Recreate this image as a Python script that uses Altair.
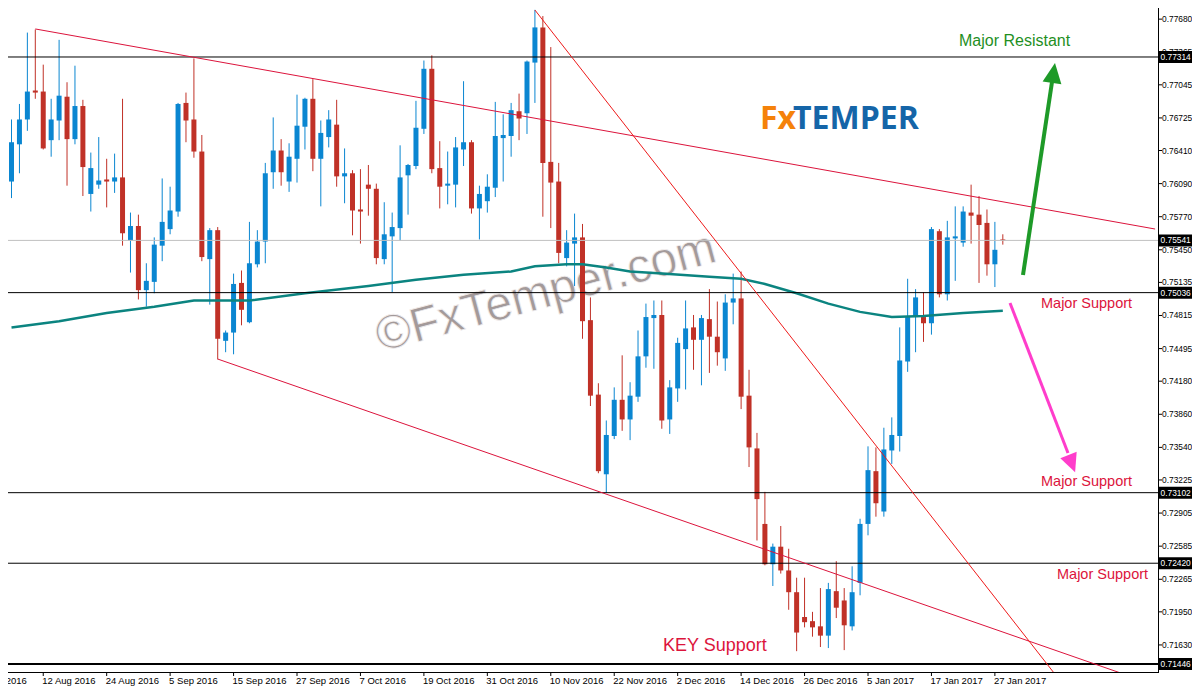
import altair as alt
import pandas as pd

# ---------------- data (AUD/USD daily) ----------------
opens = [0.7611, 0.7647, 0.7671, 0.7699, 0.7698, 0.7651, 0.7670, 0.7693, 0.7652, 0.7684,
         0.7599, 0.7608, 0.7613, 0.7611, 0.7615, 0.7554, 0.7568, 0.7506, 0.7514, 0.7549,
         0.7565, 0.7582, 0.7687, 0.7671, 0.7640, 0.7536, 0.7564, 0.7457, 0.7465, 0.7513,
         0.7475, 0.7531, 0.7553, 0.7620, 0.7641, 0.7611, 0.7633, 0.7664, 0.7691, 0.7633,
         0.7654, 0.7666, 0.7616, 0.7619, 0.7584, 0.7608, 0.7604, 0.7536, 0.7558, 0.7566,
         0.7617, 0.7626, 0.7662, 0.7720, 0.7624, 0.7607, 0.7608, 0.7642, 0.7649, 0.7585,
         0.7592, 0.7605, 0.7653, 0.7655, 0.7679, 0.7677, 0.7726, 0.7760, 0.7630, 0.7611,
         0.7537, 0.7551, 0.7557, 0.7477, 0.7405, 0.7328, 0.7365, 0.7400, 0.7381, 0.7403,
         0.7442, 0.7479, 0.7482, 0.7381, 0.7411, 0.7449, 0.7470, 0.7458, 0.7478, 0.7461,
         0.7440, 0.7494, 0.7498, 0.7404, 0.7353, 0.7280, 0.7241, 0.7258, 0.7235, 0.7214,
         0.7190, 0.7186, 0.7181, 0.7172, 0.7215, 0.7206, 0.7181, 0.7223, 0.7280, 0.7331,
         0.7292, 0.7351, 0.7365, 0.7437, 0.7480, 0.7480, 0.7474, 0.7563, 0.7502, 0.7556,
         0.7552, 0.7581, 0.7579, 0.7571, 0.7531, 0.7555]
highs = [0.7671, 0.7686, 0.7755, 0.7758, 0.7724, 0.7691, 0.7748, 0.7707, 0.7723, 0.7690,
         0.7639, 0.7654, 0.7633, 0.7638, 0.7691, 0.7581, 0.7579, 0.7532, 0.7557, 0.7614,
         0.7606, 0.7687, 0.7697, 0.7730, 0.7656, 0.7566, 0.7567, 0.7467, 0.7522, 0.7525,
         0.7572, 0.7564, 0.7629, 0.7673, 0.7652, 0.7648, 0.7695, 0.7692, 0.7710, 0.7670,
         0.7680, 0.7690, 0.7643, 0.7622, 0.7623, 0.7627, 0.7609, 0.7591, 0.7581, 0.7646,
         0.7628, 0.7689, 0.7728, 0.7733, 0.7650, 0.7640, 0.7654, 0.7708, 0.7651, 0.7607,
         0.7618, 0.7688, 0.7676, 0.7687, 0.7696, 0.7728, 0.7777, 0.7771, 0.7741, 0.7629,
         0.7564, 0.7580, 0.7570, 0.7499, 0.7416, 0.7380, 0.7412, 0.7443, 0.7417, 0.7467,
         0.7493, 0.7496, 0.7496, 0.7419, 0.7460, 0.7496, 0.7482, 0.7482, 0.7507, 0.7495,
         0.7502, 0.7522, 0.7524, 0.7429, 0.7368, 0.7311, 0.7261, 0.7278, 0.7256, 0.7228,
         0.7228, 0.7195, 0.7218, 0.7223, 0.7244, 0.7218, 0.7239, 0.7285, 0.7355, 0.7354,
         0.7373, 0.7383, 0.7470, 0.7517, 0.7507, 0.7504, 0.7567, 0.7565, 0.7573, 0.7587,
         0.7587, 0.7608, 0.7597, 0.7584, 0.7572, 0.7560]
lows = [0.7595, 0.7619, 0.7660, 0.7691, 0.7642, 0.7635, 0.7651, 0.7607, 0.7647, 0.7597,
        0.7582, 0.7604, 0.7586, 0.7600, 0.7549, 0.7523, 0.7497, 0.7490, 0.7503, 0.7534,
        0.7560, 0.7577, 0.7649, 0.7634, 0.7534, 0.7492, 0.7439, 0.7446, 0.7444, 0.7472,
        0.7474, 0.7528, 0.7532, 0.7604, 0.7607, 0.7601, 0.7610, 0.7642, 0.7621, 0.7587,
        0.7644, 0.7606, 0.7590, 0.7559, 0.7551, 0.7578, 0.7531, 0.7531, 0.7504, 0.7554,
        0.7579, 0.7623, 0.7657, 0.7619, 0.7585, 0.7589, 0.7586, 0.7626, 0.7580, 0.7555,
        0.7581, 0.7596, 0.7611, 0.7635, 0.7651, 0.7657, 0.7687, 0.7577, 0.7566, 0.7532,
        0.7529, 0.7510, 0.7459, 0.7394, 0.7329, 0.7310, 0.7362, 0.7370, 0.7361, 0.7398,
        0.7431, 0.7430, 0.7372, 0.7367, 0.7398, 0.7410, 0.7429, 0.7414, 0.7426, 0.7433,
        0.7428, 0.7473, 0.7391, 0.7335, 0.7264, 0.7240, 0.7220, 0.7232, 0.7197, 0.7157,
        0.7180, 0.7171, 0.7161, 0.7160, 0.7189, 0.7158, 0.7177, 0.7211, 0.7269, 0.7287,
        0.7287, 0.7338, 0.7350, 0.7427, 0.7446, 0.7456, 0.7463, 0.7499, 0.7496, 0.7515,
        0.7548, 0.7551, 0.7513, 0.7520, 0.7509, 0.7550]
closes = [0.7649, 0.7671, 0.7698, 0.7697, 0.7643, 0.7671, 0.7694, 0.7652, 0.7684, 0.7625,
          0.7624, 0.7612, 0.7611, 0.7615, 0.7561, 0.7568, 0.7506, 0.7515, 0.7550, 0.7572,
          0.7583, 0.7686, 0.7670, 0.7640, 0.7538, 0.7564, 0.7459, 0.7465, 0.7512, 0.7487,
          0.7532, 0.7553, 0.7619, 0.7641, 0.7620, 0.7635, 0.7665, 0.7691, 0.7633, 0.7658,
          0.7671, 0.7616, 0.7619, 0.7583, 0.7582, 0.7604, 0.7537, 0.7560, 0.7567, 0.7615,
          0.7627, 0.7663, 0.7720, 0.7623, 0.7606, 0.7609, 0.7644, 0.7649, 0.7585, 0.7599,
          0.7606, 0.7655, 0.7656, 0.7680, 0.7672, 0.7727, 0.7760, 0.7629, 0.7610, 0.7542,
          0.7552, 0.7557, 0.7476, 0.7404, 0.7331, 0.7366, 0.7400, 0.7381, 0.7404, 0.7442,
          0.7480, 0.7482, 0.7380, 0.7412, 0.7455, 0.7469, 0.7458, 0.7479, 0.7461, 0.7446,
          0.7494, 0.7498, 0.7403, 0.7354, 0.7304, 0.7241, 0.7258, 0.7235, 0.7214, 0.7175,
          0.7185, 0.7180, 0.7172, 0.7217, 0.7199, 0.7182, 0.7214, 0.7280, 0.7332, 0.7300,
          0.7352, 0.7366, 0.7438, 0.7480, 0.7499, 0.7474, 0.7565, 0.7502, 0.7557, 0.7558,
          0.7582, 0.7578, 0.7569, 0.7531, 0.7545, 0.7554]

# moving average (teal) sampled at bar indices
ma_bars = [0, 6, 12, 18, 23, 30, 37, 45, 51, 57, 63, 66, 70, 72, 75, 78, 82, 88, 92, 95,
           99, 103, 107, 111, 115, 120, 125]
ma_values = [0.7470, 0.7476, 0.7484, 0.7490, 0.7496, 0.7496, 0.7503, 0.7510, 0.7516, 0.7521,
             0.7524, 0.7529, 0.7531, 0.7531, 0.7528, 0.7524, 0.7522, 0.7519, 0.7517, 0.7512,
             0.7503, 0.7493, 0.7485, 0.7480, 0.7481, 0.7484, 0.7486]

# x-axis date labels and the bars they sit on (first one is cut by the left edge)
date_labels = ["2 Aug 2016", "12 Aug 2016", "24 Aug 2016", "5 Sep 2016", "15 Sep 2016",
               "27 Sep 2016", "7 Oct 2016", "19 Oct 2016", "31 Oct 2016", "10 Nov 2016",
               "22 Nov 2016", "2 Dec 2016", "14 Dec 2016", "26 Dec 2016", "5 Jan 2017",
               "17 Jan 2017", "27 Jan 2017"]
date_bars = [-4, 4, 12, 20, 28, 36, 44, 52, 60, 68, 76, 84, 92, 100, 108, 116, 124]

# right axis price ticks
price_ticks = [0.77680, 0.77365, 0.77045, 0.76725, 0.76410, 0.76090, 0.75770, 0.75450,
               0.75135, 0.74815, 0.74495, 0.74180, 0.73860, 0.73540, 0.73225, 0.72905,
               0.72585, 0.72265, 0.71950, 0.71630, 0.71310]

# horizontal levels
levels = [0.77314, 0.75036, 0.73102, 0.72420]
key_level = [0.71446]
bid_level = [0.75541]
boxed_levels = [0.77314, 0.75541, 0.75036, 0.73102, 0.72420, 0.71446]

# trend lines (bar index, price)
upper_bars = [3, 144.2]
upper_prices = [0.77585, 0.75651]
lower_bars = [26, 144.2]
lower_prices = [0.74394, 0.71243]
steep_bars = [66, 133]
steep_prices = [0.77768, 0.71208]

# ---------------- chart ----------------
FONT = "Liberation Sans"
BLUE = "#0a86d1"
RED = "#c03127"
CRIMSON = "#dc143c"

W, H = 1150, 664
Y_MIN, Y_MAX = 0.713685, 0.777877
xs = alt.Scale(domain=[0.1875, 143.9375], nice=False, zero=False)
ys = alt.Scale(domain=[Y_MIN, Y_MAX], nice=False, zero=False)


def X(f):
    return alt.X(f, scale=xs, axis=None)


def Y(f):
    return alt.Y(f, scale=ys, axis=None)


bars = pd.DataFrame({"bar": list(range(len(opens))), "open": opens, "high": highs,
                     "low": lows, "close": closes})
bars["dir"] = ["up" if c >= o else "down" for o, c in zip(opens, closes)]
color = alt.Color("dir:N", scale=alt.Scale(domain=["up", "down"], range=[BLUE, RED]),
                  legend=None)

wicks = alt.Chart(bars).mark_rule(strokeWidth=1, clip=True).encode(
    x=X("bar:Q"), y=Y("low:Q"), y2="high:Q", color=color)
bodies = alt.Chart(bars).mark_bar(size=5, clip=True).encode(
    x=X("bar:Q"), y=Y("open:Q"), y2="close:Q", color=color)

ma_df = pd.DataFrame({"bar": ma_bars, "ma": ma_values})
ma_line = alt.Chart(ma_df).mark_line(color="#0b8480", strokeWidth=2.5, clip=True).encode(
    x=X("bar:Q"), y=Y("ma:Q"))

lvl = alt.Chart(pd.DataFrame({"p": levels})).mark_rule(color="black", strokeWidth=1).encode(
    y=Y("p:Q"))
key = alt.Chart(pd.DataFrame({"p": key_level})).mark_rule(color="black", strokeWidth=2).encode(
    y=Y("p:Q"))
bid = alt.Chart(pd.DataFrame({"p": bid_level})).mark_rule(color="#c0c0c0", strokeWidth=1).encode(
    y=Y("p:Q"))

tl_df = pd.DataFrame({
    "bar": upper_bars + lower_bars,
    "p": upper_prices + lower_prices,
    "line": ["upper", "upper", "lower", "lower"],
})
channel = alt.Chart(tl_df).mark_line(color=CRIMSON, strokeWidth=1, clip=True).encode(
    x=X("bar:Q"), y=Y("p:Q"), detail="line:N")
steep = alt.Chart(pd.DataFrame({"bar": steep_bars, "p": steep_prices})).mark_line(
    color="#ee1a1a", strokeWidth=1, clip=True).encode(x=X("bar:Q"), y=Y("p:Q"))

# ---- hand-made axes ----
axis_y_line = alt.Chart(pd.DataFrame({"a": [0]})).mark_rule(color="black", strokeWidth=1).encode(
    x=alt.value(W + 0.5), y=alt.value(0), y2=alt.value(H))
axis_x_line = alt.Chart(pd.DataFrame({"a": [0]})).mark_rule(color="black", strokeWidth=1).encode(
    x=alt.value(0), x2=alt.value(W + 1), y=alt.value(H + 0.5))

yt = pd.DataFrame({"p": [v for v in price_ticks if Y_MIN <= v <= Y_MAX]})
yt["label"] = [f"{v:.5f}" for v in yt["p"]]
y_ticks = alt.Chart(yt).mark_rule(color="black", strokeWidth=1).encode(
    x=alt.value(W + 1), x2=alt.value(W + 4), y=Y("p:Q"))
y_labels = alt.Chart(yt).mark_text(align="left", baseline="middle", font=FONT, fontSize=8.4,
                                   color="black").encode(
    x=alt.value(W + 4), y=Y("p:Q"), text="label:N")

xt = pd.DataFrame({"bar": date_bars, "label": date_labels})
x_ticks = alt.Chart(xt).mark_rule(color="black", strokeWidth=1).encode(
    x=X("bar:Q"), y=alt.value(H + 1), y2=alt.value(H + 4))
x_labels = alt.Chart(xt).mark_text(align="left", baseline="top", font=FONT, fontSize=9.5,
                                   color="black", dx=-1).encode(
    x=X("bar:Q"), y=alt.value(H + 4), text="label:N")

box_df = pd.DataFrame({"p": boxed_levels, "label": [f"{v:.5f}" for v in boxed_levels]})
boxes = alt.Chart(box_df).mark_rule(color="black", strokeWidth=12, strokeCap="butt").encode(
    x=alt.value(W + 1), x2=alt.value(W + 34), y=Y("p:Q"))
box_text = alt.Chart(box_df).mark_text(align="left", baseline="middle", color="white",
                                        font=FONT, fontSize=8.4).encode(
    x=alt.value(W + 2.5), y=Y("p:Q"), text="label:N")

# ---- annotations ----
one = pd.DataFrame({"a": [0]})

watermark = alt.Chart(one).mark_text(
    text="©FxTemper.com", font=FONT, fontSize=48, angle=345, align="center",
    baseline="middle", color="#a39a9a", stroke="#f2eeee", strokeWidth=0.8).encode(
    x=alt.value(538), y=alt.value(285))

fx = alt.Chart(one).mark_text(text="Fx", font="Open Sans", fontWeight="bold", fontSize=32,
                              align="left", baseline="alphabetic", color="#f5820a").encode(
    x=alt.value(752), y=alt.value(121))
temper = alt.Chart(one).mark_text(text="TEMPER", font="Open Sans", fontWeight="bold",
                                  fontSize=32, align="left", baseline="alphabetic",
                                  color="#1565a8").encode(x=alt.value(785), y=alt.value(121))

major_res = alt.Chart(one).mark_text(text="Major Resistant", font=FONT, fontSize=16,
                                     align="left", baseline="alphabetic",
                                     color="#1f8f1f").encode(x=alt.value(951), y=alt.value(38))


def support_label(text, x, y, size):
    return alt.Chart(one).mark_text(text=text, font=FONT, fontSize=size, align="left",
                                    baseline="alphabetic", color=CRIMSON).encode(
        x=alt.value(x), y=alt.value(y))


sup1 = support_label("Major Support", 1033, 300, 14.5)
sup2 = support_label("Major Support", 1033, 478, 14.5)
sup3 = support_label("Major Support", 1049, 571, 14.5)
key_sup = support_label("KEY Support", 655, 643, 18)

ARROW = "M0,-1L0.95,1L-0.95,1Z"
green_shaft = alt.Chart(one).mark_rule(color="#1e9a28", strokeWidth=4).encode(
    x=alt.value(1015), y=alt.value(267), x2=alt.value(1044), y2=alt.value(74))
green_head = alt.Chart(one).mark_point(shape=ARROW, filled=True, size=400, angle=8.6,
                                       color="#1e9a28", opacity=1).encode(
    x=alt.value(1045.5), y=alt.value(65))
pink_shaft = alt.Chart(one).mark_rule(color="#ff3dcb", strokeWidth=3).encode(
    x=alt.value(1002), y=alt.value(295), x2=alt.value(1060), y2=alt.value(445))
pink_head = alt.Chart(one).mark_point(shape=ARROW, filled=True, size=340, angle=159,
                                      color="#ff3dcb", opacity=1).encode(
    x=alt.value(1063.8), y=alt.value(455.6))

chart = alt.layer(
    watermark, wicks, bodies, ma_line, bid, lvl, key, channel, steep,
    axis_y_line, axis_x_line, y_ticks, y_labels, x_ticks, x_labels,
    boxes, box_text, fx, temper, major_res, sup1, sup2, sup3, key_sup,
    green_shaft, green_head, pink_shaft, pink_head,
).properties(
    width=W, height=H, background="white",
    autosize=alt.AutoSizeParams(type="none"),
    padding={"left": 0, "top": 0, "right": 34, "bottom": 14},
).configure_view(strokeWidth=0)

chart.save("out.html", embed_options={"renderer": "svg", "actions": False})
